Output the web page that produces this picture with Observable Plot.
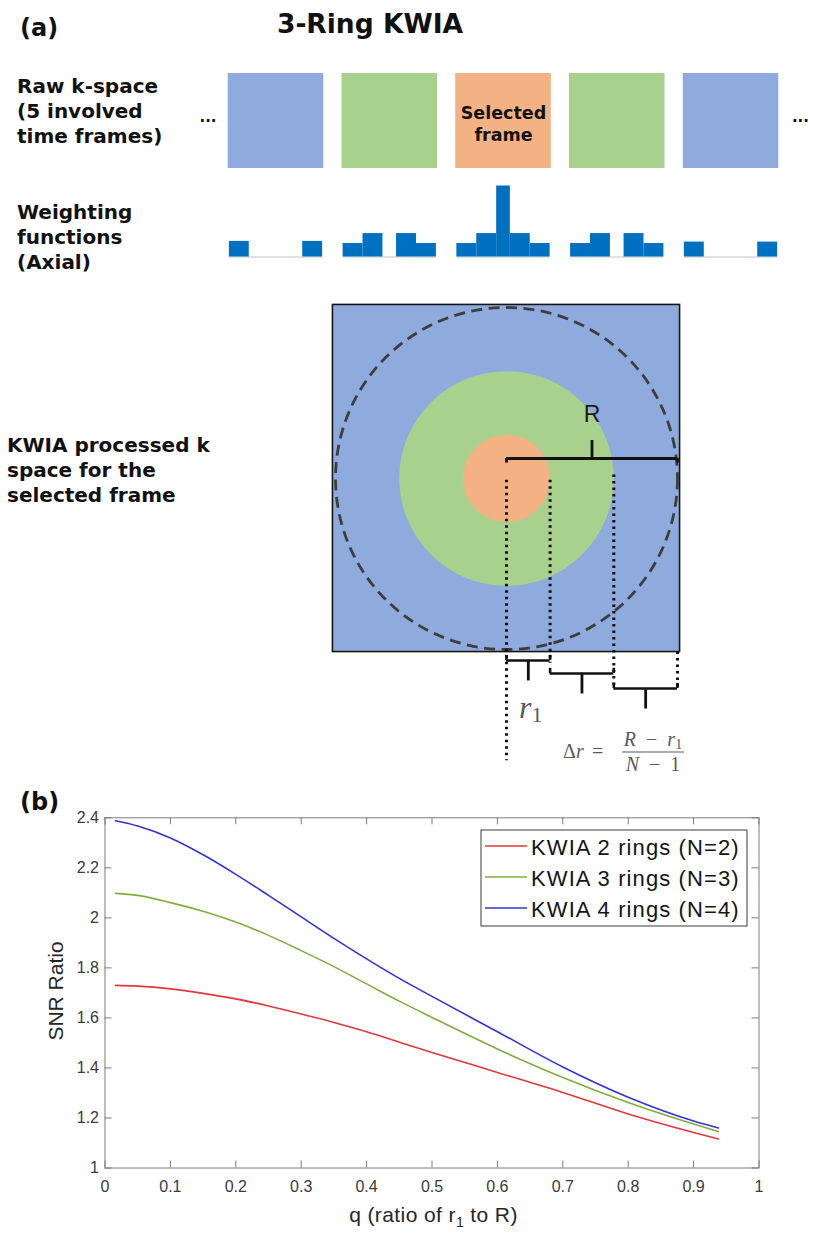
<!DOCTYPE html>
<html><head><meta charset="utf-8">
<script src="https://cdn.jsdelivr.net/npm/d3@7"></script>
<script src="https://cdn.jsdelivr.net/npm/@observablehq/plot@0.6"></script>
<style>
html,body{margin:0;padding:0;background:#fff;}
#root{position:relative;width:813px;height:1234px;overflow:hidden;background:#fff;}
</style></head><body><div id="root"></div>
<script>
// ---------------- panel (a) data ----------------
const frameIndex = [-2, -1, 0, 1, 2];
const frameRing = ["outer", "middle", "center", "middle", "outer"];
const ringNames = ["outer", "middle", "center"];
const ringColors = ["#8faadc", "#a9d18e", "#f4b183"];
// axial k-space bin edges (in frame widths) and per-frame weights
const binEdges = [-0.41, -0.235, -0.06, 0.06, 0.235, 0.41];
const frameWeights = [
  [0.22, 0, 0, 0, 0.22],
  [0.19, 0.33, 0, 0.33, 0.19],
  [0.19, 0.33, 1, 0.33, 0.19],
  [0.19, 0.33, 0, 0.33, 0.19],
  [0.21, 0, 0, 0, 0.21]
];
const kR = 1;        // outer radius R
const r1 = 0.255;    // inner ring radius (fraction of R)
const nRings = 3;    // N
const kExtent = 1.015;

// ---------------- panel (b) data ----------------
const qValues = [0.016, 0.05, 0.1, 0.15, 0.2, 0.25, 0.3, 0.35, 0.4, 0.45, 0.5, 0.6, 0.7, 0.8, 0.9, 0.938];
const snrN2 = [1.730, 1.727, 1.716, 1.698, 1.676, 1.648, 1.616, 1.582, 1.545, 1.503, 1.462, 1.382, 1.302, 1.216, 1.142, 1.116];
const snrN3 = [2.098, 2.090, 2.061, 2.026, 1.983, 1.930, 1.869, 1.805, 1.736, 1.667, 1.602, 1.476, 1.362, 1.262, 1.176, 1.146];
const snrN4 = [2.388, 2.367, 2.319, 2.252, 2.174, 2.090, 2.004, 1.918, 1.836, 1.758, 1.686, 1.545, 1.404, 1.283, 1.188, 1.160];
const seriesNames = ["KWIA 2 rings (N=2)", "KWIA 3 rings (N=3)", "KWIA 4 rings (N=4)"];
const seriesColors = ["#e2373c", "#7fae3e", "#3333d6"];
const xTicks = [0, 0.1, 0.2, 0.3, 0.4, 0.5, 0.6, 0.7, 0.8, 0.9, 1];
const yTicks = [1, 1.2, 1.4, 1.6, 1.8, 2, 2.2, 2.4];

// ---------------- layout ----------------
const W = 813;
const root = document.getElementById("root");
function place(el, top) {
  el.style.position = "absolute"; el.style.left = "0px"; el.style.top = top + "px";
  root.appendChild(el);
}
const transparent = {background: "transparent", overflow: "visible"};

const frames = frameIndex.map((i, k) => ({i, ring: frameRing[k], weights: frameWeights[k]}));
const FX0 = 503, FDX = 113.75;
const frameX = {domain: [-FX0 / FDX, (W - FX0) / FDX], range: [0, W], axis: null};

// frames
const p1 = Plot.plot({
  width: W, height: 95, margin: 0,
  x: frameX, y: {domain: [0, 1], axis: null},
  color: {domain: ringNames, range: ringColors},
  style: transparent,
  marks: [
    Plot.rect(frames, {x1: d => d.i - 0.42, x2: d => d.i + 0.42, y1: 0, y2: 1, fill: "ring"}),
    Plot.text(frames.filter(d => d.ring === "center"), {
      x: "i", y: 0.48, text: () => "Selected\nframe", fontSize: 17.5, fontWeight: "bold",
      fontFamily: "DejaVu Sans", fill: "#111", lineHeight: 1.25
    })
  ]
});
place(p1, 73);

// weighting functions
const bins = frames.flatMap(f => f.weights.map((w, b) => ({
  i: f.i, w, x1: f.i + binEdges[b], x2: f.i + binEdges[b + 1]
}))).filter(d => d.w > 0);
const p2 = Plot.plot({
  width: W, height: 90, margin: 0,
  x: frameX, y: {domain: [-8.5 / 71, 81.5 / 71], axis: null},
  style: transparent,
  marks: [
    Plot.ruleY(frames, {y: 0, x1: d => d.i + binEdges[0], x2: d => d.i + binEdges[5], stroke: "#c4c4c4", strokeWidth: 1.2}),
    Plot.rect(bins, {x1: "x1", x2: "x2", y1: 0, y2: "w", fill: "#0070c0"})
  ]
});
place(p2, 175);

// k-space rings
const dr = (kR - r1) / (nRings - 1);
const r2 = r1 + dr;
const CX = 506, CY = 478, U = 171, P3top = 290, P3h = 490;
const filledRings = [{ring: "middle", radius: r2}, {ring: "center", radius: r1}];
const dotted = [
  {x: 0, y1: -0.01, y2: -1.65},
  {x: r1, y1: -0.01, y2: -1.08},
  {x: r2, y1: 0.02, y2: -1.23},
  {x: kR, y1: -kExtent, y2: -1.23}
];
const brackets = [
  {a: 0, b: r1, y: -1.064},
  {a: r1, b: r2, y: -1.14},
  {a: r2, b: kR, y: -1.228}
];
const p3 = Plot.plot({
  width: W, height: P3h, margin: 0,
  x: {domain: [-CX / U, (W - CX) / U], range: [0, W], axis: null},
  y: {domain: [(CY - P3top - P3h) / U, (CY - P3top) / U], range: [P3h, 0], axis: null},
  r: {type: "linear", domain: [0, 1], range: [0, U]},
  color: {domain: ringNames, range: ringColors},
  style: transparent,
  marks: [
    Plot.rect([kExtent], {x1: d => -d, x2: d => d, y1: d => -d, y2: d => d, fill: ringColors[0], stroke: "#161616", strokeWidth: 1.6}),
    Plot.dot(filledRings, {x: 0, y: 0, r: "radius", fill: "ring"}),
    Plot.dot([{radius: kR}], {x: 0, y: 0, r: "radius", fill: "none", stroke: "#3d3d3d", strokeWidth: 2.8, strokeDasharray: "11,6.5"}),
    Plot.ruleY([kR], {y: 0.117, x1: 0, x2: d => d, stroke: "#111", strokeWidth: 2.8}),
    Plot.ruleX([kR / 2], {x: d => d, y1: 0.117, y2: 0.222, stroke: "#111", strokeWidth: 2.8}),
    Plot.ruleX([0, kR], {x: d => d, y1: 0.09, y2: 0.117, stroke: "#111", strokeWidth: 2.8}),
    Plot.ruleX(dotted, {x: "x", y1: "y1", y2: "y2", stroke: "#111", strokeWidth: 3, strokeDasharray: "2.5,4"}),
    Plot.ruleY(brackets, {y: "y", x1: "a", x2: "b", stroke: "#111", strokeWidth: 2.6}),
    Plot.ruleX(brackets.flatMap(d => [{x: d.a, y: d.y}, {x: d.b, y: d.y}]), {x: "x", y1: "y", y2: d => d.y + 0.03, stroke: "#111", strokeWidth: 2.6}),
    Plot.ruleX(brackets, {x: d => (d.a + d.b) / 2, y1: "y", y2: d => d.y - 0.12, stroke: "#111", strokeWidth: 2.8})
  ]
});
place(p3, P3top);

// ---------------- panel (b) chart ----------------
const rows = [snrN2, snrN3, snrN4].flatMap((vals, s) =>
  vals.map((v, k) => ({series: seriesNames[s], q: qValues[k], v})));
const fmt = d => String(Math.round(d * 10) / 10);
const tkY = 7 * 1.4 / 350, tkX = 7 / 654;
const p4 = Plot.plot({
  width: W, height: 444,
  marginTop: 27.3, marginBottom: 66.5, marginLeft: 104.5, marginRight: 54.5,
  x: {domain: [0, 1], ticks: xTicks, tickSize: 0, tickPadding: 13, tickFormat: fmt, label: null},
  y: {domain: [1, 2.4], ticks: yTicks, tickSize: 0, tickPadding: 6, tickFormat: fmt, label: null},
  color: {domain: seriesNames, range: seriesColors},
  style: {background: "transparent", overflow: "visible", fontFamily: "Liberation Sans, Arial, sans-serif", fontSize: "16px", color: "#3a3a3a"},
  marks: [
    Plot.frame({stroke: "#7d7d7d", strokeWidth: 1}),
    Plot.ruleX(xTicks, {x: d => d, y1: 1, y2: 1 + tkY, stroke: "#7d7d7d"}),
    Plot.ruleX(xTicks, {x: d => d, y1: 2.4 - tkY, y2: 2.4, stroke: "#7d7d7d"}),
    Plot.ruleY(yTicks, {y: d => d, x1: 0, x2: tkX, stroke: "#7d7d7d"}),
    Plot.ruleY(yTicks, {y: d => d, x1: 1 - tkX, x2: 1, stroke: "#7d7d7d"}),
    Plot.line(rows, {x: "q", y: "v", stroke: "series", curve: "monotone-x", strokeWidth: 1.6})
  ]
});
place(p4, 790);

// ---------------- text overlay ----------------
const ov = d3.create("svg").attr("width", W).attr("height", 1234)
  .style("position", "absolute").style("left", "0px").style("top", "0px");
const BOLD = "DejaVu Sans, sans-serif";
function t(x, y, s, o = {}) {
  const e = ov.append("text").attr("x", x).attr("y", y)
    .attr("font-family", o.family || BOLD)
    .attr("font-size", o.size || 20)
    .attr("font-weight", o.weight || "bold")
    .attr("fill", o.fill || "#111")
    .attr("text-anchor", o.anchor || "start");
  if (o.ls) e.attr("letter-spacing", o.ls);
  if (typeof s === "string") e.text(s);
  else s.forEach(p => {
    const ts = e.append("tspan").text(p.s);
    if (p.italic) ts.attr("font-style", "italic");
    if (p.size) ts.attr("font-size", p.size);
    if (p.dy) ts.attr("dy", p.dy);
  });
  return e;
}
t(20, 36, "(a)", {size: 24});
t(370, 33, "3-Ring KWIA", {size: 26.5, anchor: "middle"});
t(17, 93, "Raw k-space");
t(17, 118, "(5 involved");
t(17, 143, "time frames)");
t(208, 122, "...", {size: 15, anchor: "middle"});
t(809, 122, "...", {size: 15, anchor: "end"});
t(17, 219, "Weighting");
t(17, 244, "functions");
t(17, 269, "(Axial)");
t(7, 452, "KWIA processed k");
t(7, 477, "space for the");
t(7, 502, "selected frame");
t(592, 422, "R", {family: "Liberation Sans, sans-serif", weight: "normal", size: 23, anchor: "middle", fill: "#1a1a1a"});
const SERIF = "Liberation Serif, DejaVu Serif, serif";
t(519, 718, [{s: "r", italic: true}, {s: "1", size: 22, dy: 4}], {family: SERIF, weight: "normal", size: 32, fill: "#5a5a5a"});
t(563, 758, [{s: "Δ"}, {s: "r", italic: true}], {family: SERIF, weight: "normal", size: 20, fill: "#5a5a5a"});
t(592, 758, "=", {family: SERIF, weight: "normal", size: 20, fill: "#5a5a5a"});
t(653, 746, [{s: "R", italic: true}, {s: "\u2002−\u2002"}, {s: "r", italic: true}, {s: "1", size: 14, dy: 3}], {family: SERIF, weight: "normal", size: 20, fill: "#5a5a5a", anchor: "middle"});
ov.append("line").attr("x1", 622).attr("x2", 684).attr("y1", 752).attr("y2", 752).attr("stroke", "#5a5a5a").attr("stroke-width", 1.1);
t(653, 771, [{s: "N", italic: true}, {s: "\u2002−\u20021"}], {family: SERIF, weight: "normal", size: 20, fill: "#5a5a5a", anchor: "middle"});

t(20, 810, "(b)", {size: 24});
// legend
const SANS = "Liberation Sans, Arial, sans-serif";
ov.append("rect").attr("x", 481).attr("y", 830).attr("width", 266).attr("height", 96)
  .attr("fill", "#fff").attr("stroke", "#3a3a3a").attr("stroke-width", 1);
const legY = [855, 886, 917];
seriesNames.forEach((name, k) => {
  ov.append("line").attr("x1", 485).attr("x2", 527).attr("y1", legY[k] - 9).attr("y2", legY[k] - 9)
    .attr("stroke", seriesColors[k]).attr("stroke-width", 1.6);
  t(531, legY[k], name, {family: SANS, weight: "normal", size: 22, ls: 1.1, fill: "#141414"});
});
// axis labels
t(433.5, 1222, [{s: "q (ratio of r"}, {s: "1", size: 14, dy: 5}, {s: " to R)", dy: -5}], {family: SANS, weight: "normal", size: 21, ls: 0.4, anchor: "middle", fill: "#262626"});
t(0, 0, "SNR Ratio", {family: SANS, weight: "normal", size: 21, anchor: "middle", fill: "#262626"})
  .attr("transform", "translate(63,991) rotate(-90)");

root.appendChild(ov.node());
</script></body></html>
